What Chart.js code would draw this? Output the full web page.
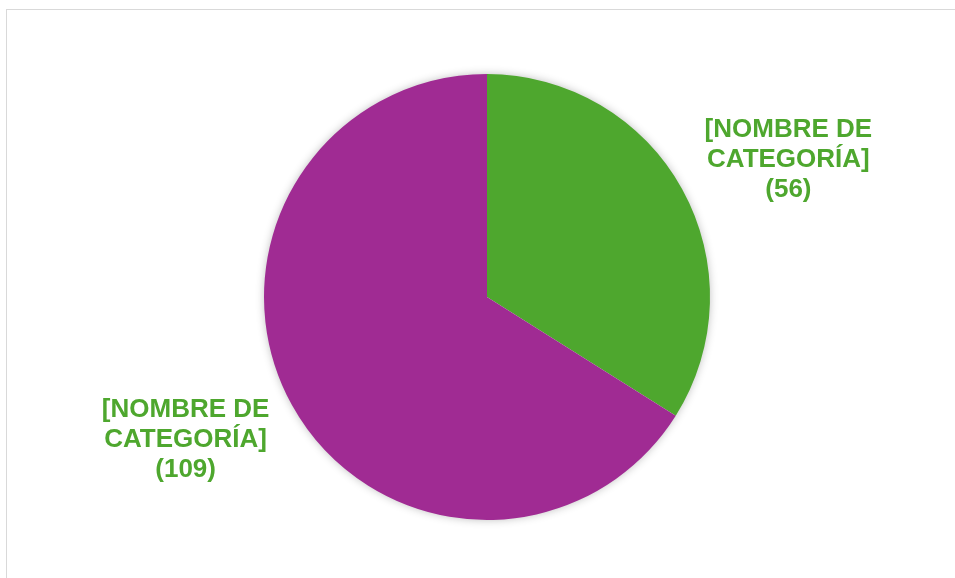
<!DOCTYPE html>
<html>
<head>
<meta charset="utf-8">
<script src="https://cdn.jsdelivr.net/npm/chart.js@4/dist/chart.umd.min.js"></script>
<style>
  html, body { margin: 0; padding: 0; background: #fff; overflow: hidden; }
  #frame { position: absolute; left: 6px; top: 9px; width: 960px; height: 580px; border: 1px solid #d9d9d9; box-sizing: border-box; }
  #wrap { position: absolute; left: 0; top: 0; width: 955px; height: 578px; }
</style>
</head>
<body>
<div id="frame"></div>
<div id="wrap"><canvas id="pieChart"></canvas></div>
<script>
const categories = ['[NOMBRE DE CATEGORÍA]', '[NOMBRE DE CATEGORÍA]'];
const values = [56, 109];
const sliceColors = ['#4EA72E', '#A02B93'];
const labelColor = '#4EA72E';

// soft shadow around the whole pie (drawn once, under the slices)
const pieShadow = {
  id: 'pieShadow',
  beforeDatasetsDraw(chart) {
    const arc = chart.getDatasetMeta(0).data[0];
    if (!arc) return;
    const c = chart.ctx;
    c.save();
    c.shadowColor = 'rgba(0,0,0,0.3)';
    c.shadowBlur = 10;
    c.fillStyle = '#ffffff';
    c.beginPath();
    c.arc(arc.x, arc.y, arc.outerRadius - 1, 0, Math.PI * 2);
    c.fill();
    c.restore();
  }
};

// data labels outside the slices
const outsideLabels = {
  id: 'outsideLabels',
  afterDraw(chart) {
    const c = chart.ctx;
    const meta = chart.getDatasetMeta(0);
    c.save();
    c.font = 'bold 26px "Liberation Sans", Arial, sans-serif';
    c.fillStyle = labelColor;
    c.textAlign = 'center';
    c.textBaseline = 'middle';
    meta.data.forEach((arc, i) => {
      const mid = (arc.startAngle + arc.endAngle) / 2 + 0.07;
      const r = arc.outerRadius * 1.49;
      const x = arc.x + Math.cos(mid) * r;
      const y = arc.y + Math.sin(mid) * r + 3;
      const lines = ['[NOMBRE DE', 'CATEGORÍA]', '(' + values[i] + ')'];
      lines.forEach((t, j) => c.fillText(t, x, y + (j - 1) * 30));
    });
    c.restore();
  }
};

new Chart(document.getElementById('pieChart').getContext('2d'), {
  type: 'pie',
  data: {
    labels: categories,
    datasets: [{
      data: values,
      backgroundColor: sliceColors,
      borderWidth: 0
    }]
  },
  options: {
    responsive: true,
    maintainAspectRatio: false,
    animation: false,
    layout: { padding: { top: 74, bottom: 58, left: 264, right: 245 } },
    plugins: {
      legend: { display: false },
      tooltip: { enabled: false }
    }
  },
  plugins: [pieShadow, outsideLabels]
});
</script>
</body>
</html>
